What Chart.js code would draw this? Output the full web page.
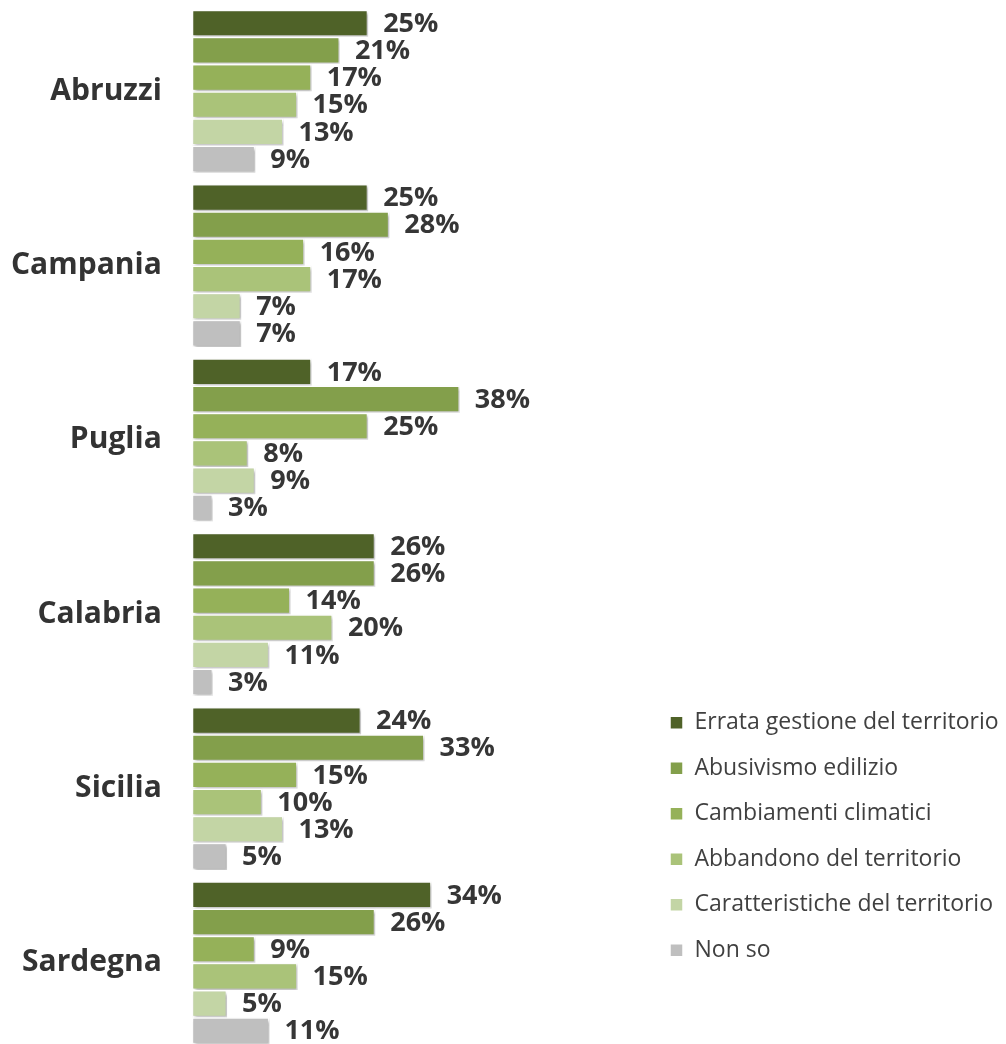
<!DOCTYPE html>
<html>
<head>
<meta charset="utf-8">
<script src="https://cdn.jsdelivr.net/npm/chart.js@4.4.1/dist/chart.umd.min.js"></script>
<style>
  html, body { margin: 0; padding: 0; background: #fff; overflow: hidden; }
  #wrap { position: relative; width: 1006px; height: 1050px; }
</style>
</head>
<body>
<div id="wrap"><canvas id="chart"></canvas></div>
<script>
// ── DATA ──────────────────────────────────────────────────────────────────
const REGIONS = ['Abruzzi', 'Campania', 'Puglia', 'Calabria', 'Sicilia', 'Sardegna'];
const SERIES  = ['Errata gestione del territorio', 'Abusivismo edilizio', 'Cambiamenti climatici',
                 'Abbandono del territorio', 'Caratteristiche del territorio', 'Non so'];

const ERRATA_GESTIONE = [25, 25, 17, 26, 24, 34];
const ABUSIVISMO      = [21, 28, 38, 26, 33, 26];
const CAMBIAMENTI     = [17, 16, 25, 14, 15,  9];
const ABBANDONO       = [15, 17,  8, 20, 10, 15];
const CARATTERISTICHE = [13,  7,  9, 11, 13,  5];
const NON_SO          = [ 9,  7,  3,  3,  5, 11];

const COLORS = ['#4F6228', '#839F4B', '#95B159', '#AAC379', '#C3D5A5', '#BFBFBF'];

const VALUES = [ERRATA_GESTIONE, ABUSIVISMO, CAMBIAMENTI, ABBANDONO, CARATTERISTICHE, NON_SO];

// ── PLUGIN: soft shadow under bars + value labels ─────────────────────────
const barDecor = {
  id: 'barDecor',
  beforeDatasetsDraw(chart) {
    const c = chart.ctx;
    c.save();
    c.shadowColor   = 'rgba(0,0,0,0.28)';
    c.shadowBlur    = 3;
    c.shadowOffsetX = 2;
    c.shadowOffsetY = 2;
  },
  afterDatasetsDraw(chart) {
    const c = chart.ctx;
    c.restore();
    c.save();
    c.font = "bold 27px 'Open Sans', sans-serif";
    c.fillStyle = '#363636';
    c.textAlign = 'left';
    c.textBaseline = 'middle';
    chart.data.datasets.forEach((ds, i) => {
      chart.getDatasetMeta(i).data.forEach((bar, j) => {
        c.fillText(ds.data[j] + '%', bar.x + 15, bar.y + 1);
      });
    });
    c.restore();
  }
};

new Chart(document.getElementById('chart'), {
  type: 'bar',
  data: {
    labels: REGIONS,
    datasets: SERIES.map((name, i) => ({
      label: name,
      data: VALUES[i],
      backgroundColor: COLORS[i],
      borderColor: '#FFFFFF',
      borderWidth: 1.5,
      borderSkipped: false,
      categoryPercentage: 0.935,
      barPercentage: 1.0,
    }))
  },
  options: {
    responsive: true, maintainAspectRatio: false,
    animation: false,
    indexAxis: 'y',
    layout: { padding: { left: 11, top: 4, right: 0, bottom: 0 } },
    plugins: {
      tooltip: { enabled: false },
      legend: {
        display: true,
        position: 'right',
        align: 'start',
        maxWidth: 358.5,
        title: { display: true, text: ' ', font: { size: 1 }, padding: { top: 683.5, bottom: 0 } },
        labels: {
          boxWidth: 13, boxHeight: 13,
          padding: 22.5,
          color: '#404040',
          font: { family: "'Open Sans', sans-serif", size: 23 },
        }
      }
    },
    scales: {
      x: { display: false, min: 0, max: 64.6 },
      y: {
        grid: { display: false, drawTicks: true, tickLength: 30 },
        border: { display: false },
        afterFit: (scale) => { scale.paddingTop = 0; scale.paddingBottom = 0; },
        ticks: {
          padding: 0,
          color: '#333333',
          font: { family: "'Open Sans', sans-serif", size: 30, weight: 'bold' }
        }
      }
    }
  },
  plugins: [barDecor]
});
</script>
</body>
</html>
